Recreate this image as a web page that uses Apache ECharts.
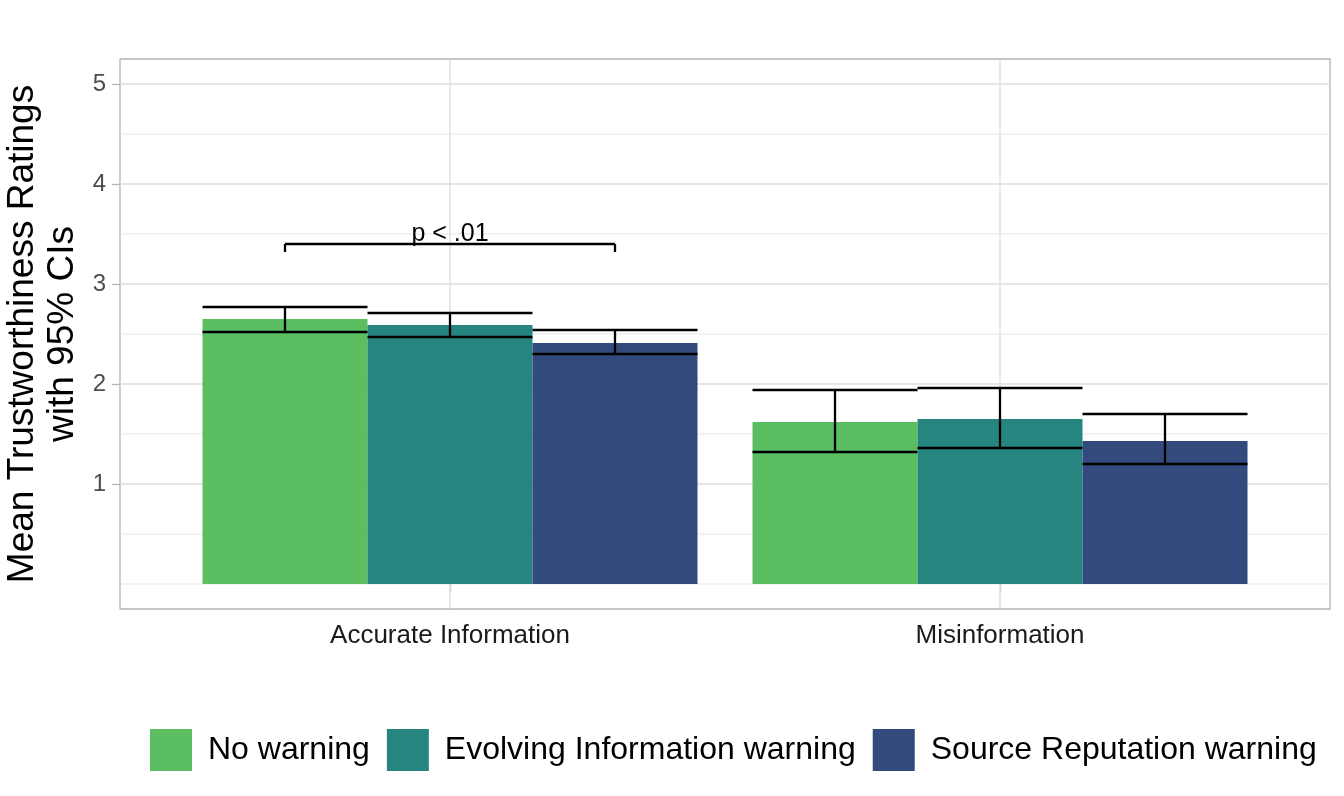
<!DOCTYPE html>
<html>
<head>
<meta charset="utf-8">
<script src="https://cdn.jsdelivr.net/npm/echarts@6/dist/echarts.min.js"></script>
<style>
html, body { margin: 0; padding: 0; background: #fff; }
#chart { width: 1344px; height: 796px; }
</style>
</head>
<body>
<div id="chart"></div>
<script>
// ---- values ----
const categories = ['Accurate Information', 'Misinformation'];
const warnings = ['No warning', 'Evolving Information warning', 'Source Reputation warning'];

const noWarningMean = [2.65, 1.62];
const noWarningLow = [2.52, 1.32];
const noWarningHigh = [2.77, 1.94];

const evolvingMean = [2.59, 1.65];
const evolvingLow = [2.47, 1.36];
const evolvingHigh = [2.71, 1.96];

const sourceMean = [2.41, 1.43];
const sourceLow = [2.30, 1.20];
const sourceHigh = [2.54, 1.70];

const yTicks = [1, 2, 3, 4, 5];
const yMinor = [0, 0.5, 1.5, 2.5, 3.5, 4.5];

// significance bracket (Accurate Information: No warning vs Source Reputation)
const bracketFrom = 0.7;
const bracketTo = 1.3;
const bracketY = 3.40;
const bracketTip = 3.32;
const bracketLabel = 'p < .01';

// ---- styling ----
const colors = ['#5BBF61', '#26857F', '#334A7D'];
const dodge = [-0.3, 0, 0.3];
const halfWidth = 0.15;
const font = '"Liberation Sans", Arial, sans-serif';

const means = [noWarningMean, evolvingMean, sourceMean];
const lows = [noWarningLow, evolvingLow, sourceLow];
const highs = [noWarningHigh, evolvingHigh, sourceHigh];

const chart = echarts.init(document.getElementById('chart'));

function barItem(k) {
	return function (params, api) {
		const x = api.value(0) + dodge[k];
		const p0 = api.coord([x - halfWidth, api.value(1)]);
		const p1 = api.coord([x + halfWidth, 0]);
		return {
			type: 'rect',
			shape: { x: p0[0], y: p0[1], width: p1[0] - p0[0], height: p1[1] - p0[1] },
			style: { fill: colors[k] }
		};
	};
}

const barSeries = warnings.map((w, k) => ({
	type: 'custom',
	name: w,
	z: 2,
	silent: true,
	itemStyle: { color: colors[k] },
	renderItem: barItem(k),
	data: categories.map((c, i) => [i + 1, means[k][i]])
}));

// error bar rows: [x position, low, high]
const errorData = [];
warnings.forEach((w, k) => {
	categories.forEach((c, i) => {
		errorData.push([i + 1 + dodge[k], lows[k][i], highs[k][i]]);
	});
});

const lineStyle = { stroke: '#000', lineWidth: 2.3 };

const errorSeries = {
	type: 'custom',
	z: 3,
	silent: true,
	renderItem: function (params, api) {
		const x = api.value(0);
		const lo = api.coord([x, api.value(1)]);
		const hi = api.coord([x, api.value(2)]);
		const l = api.coord([x - halfWidth, 0])[0];
		const r = api.coord([x + halfWidth, 0])[0];
		return {
			type: 'group',
			children: [
				{ type: 'line', shape: { x1: l, y1: lo[1], x2: r, y2: lo[1] }, style: lineStyle },
				{ type: 'line', shape: { x1: l, y1: hi[1], x2: r, y2: hi[1] }, style: lineStyle },
				{ type: 'line', shape: { x1: lo[0], y1: lo[1], x2: hi[0], y2: hi[1] }, style: lineStyle }
			]
		};
	},
	data: errorData
};

const bracketSeries = {
	type: 'custom',
	z: 3,
	silent: true,
	renderItem: function (params, api) {
		const a = api.coord([api.value(0), api.value(2)]);
		const b = api.coord([api.value(1), api.value(2)]);
		const ta = api.coord([api.value(0), api.value(3)]);
		const mid = api.coord([(api.value(0) + api.value(1)) / 2, api.value(2)]);
		return {
			type: 'group',
			children: [
				{ type: 'line', shape: { x1: a[0], y1: a[1], x2: b[0], y2: b[1] }, style: lineStyle },
				{ type: 'line', shape: { x1: a[0], y1: a[1], x2: ta[0], y2: ta[1] }, style: lineStyle },
				{ type: 'line', shape: { x1: b[0], y1: b[1], x2: b[0], y2: ta[1] }, style: lineStyle },
				{
					type: 'text',
					style: {
						text: bracketLabel, x: mid[0], y: mid[1] + 3,
						align: 'center', verticalAlign: 'bottom',
						fontSize: 25, fontFamily: font, fill: '#000'
					}
				}
			]
		};
	},
	data: [[bracketFrom, bracketTo, bracketY, bracketTip]]
};

// panel grid lines: [kind, value]  kind 0 = minor y, 1 = major y, 2 = major x
const gridData = yMinor.map(v => [0, v])
	.concat(yTicks.map(v => [1, v]))
	.concat(categories.map((c, i) => [2, i + 1]));

const gridSeries = {
	type: 'custom',
	z: 1,
	silent: true,
	encode: { x: -1, y: -1 },
	renderItem: function (params, api) {
		const cs = params.coordSys;
		const kind = api.value(0);
		const v = api.value(1);
		if (kind === 2) {
			const px = api.coord([v, 0])[0];
			return { type: 'line', shape: { x1: px, y1: cs.y, x2: px, y2: cs.y + cs.height },
				style: { stroke: '#DEDEDE', lineWidth: 1.4 } };
		}
		const py = api.coord([1, v])[1];
		return { type: 'line', shape: { x1: cs.x, y1: py, x2: cs.x + cs.width, y2: py },
			style: { stroke: '#DEDEDE', lineWidth: kind === 1 ? 1.4 : 0.8 } };
	},
	data: gridData
};

chart.setOption({
	animation: false,
	backgroundColor: '#fff',
	grid: {
		left: 120, right: 14, top: 59, bottom: 187,
		outerBoundsMode: 'none',
		containLabel: false,
		show: true, borderColor: '#B3B3B3', borderWidth: 1.3, backgroundColor: 'transparent'
	},
	legend: {
		data: warnings,
		left: 150, top: 729,
		padding: 0,
		icon: 'rect',
		itemWidth: 42, itemHeight: 42, itemGap: 17,
		textStyle: { fontSize: 32, fontFamily: font, color: '#000', padding: [0, 0, 0, 11] }
	},
	xAxis: {
		type: 'value',
		min: 0.4, max: 2.6,
		axisLine: { show: false },
		splitLine: { show: false },
		axisTick: { show: true, customValues: [1, 2], length: 8, lineStyle: { color: '#B3B3B3', width: 1.3 } },
		axisLabel: {
			customValues: [1, 2],
			formatter: v => categories[Math.round(v) - 1],
			fontSize: 26, fontFamily: font, color: '#1A1A1A', margin: 14
		}
	},
	yAxis: {
		type: 'value',
		min: -0.25, max: 5.25,
		name: 'Mean Trustworthiness Ratings\nwith 95% CIs',
		nameLocation: 'middle',
		nameRotate: 90,
		nameGap: 37,
		nameMoveOverlap: false,
		nameTextStyle: { fontSize: 37, fontFamily: font, color: '#000', lineHeight: 40 },
		axisLine: { show: false },
		splitLine: { show: false },
		axisTick: { show: true, customValues: yTicks, length: 8, lineStyle: { color: '#B3B3B3', width: 1.3 } },
		axisLabel: { customValues: yTicks, fontSize: 24, fontFamily: font, color: '#4D4D4D', margin: 14 }
	},
	series: [gridSeries].concat(barSeries, [errorSeries, bracketSeries])
});
</script>
</body>
</html>
